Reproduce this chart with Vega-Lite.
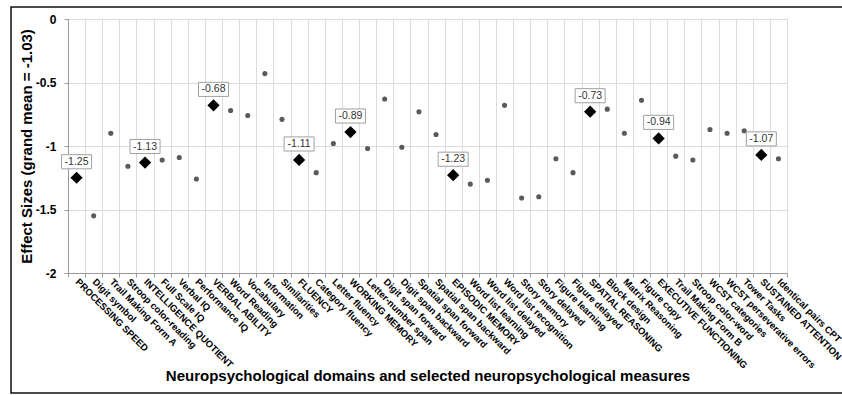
{
  "$schema": "https://vega.github.io/schema/vega-lite/v6.json",
  "width": 719,
  "height": 254,
  "autosize": {"type": "none"},
  "padding": {"left": 68, "top": 19, "right": 55, "bottom": 122},
  "background": "white",
  "config": {
    "font": "Liberation Sans",
    "view": {"stroke": "#9a9a9a", "strokeWidth": 1}
  },
  "datasets": {
    "effects": [
      {"measure": "PROCESSING SPEED", "es": -1.25, "kind": "domain"},
      {"measure": "Digit symbol", "es": -1.55, "kind": "measure"},
      {"measure": "Trail Making Form A", "es": -0.9, "kind": "measure"},
      {"measure": "Stroop color-reading", "es": -1.16, "kind": "measure"},
      {"measure": "INTELLIGENCE QUOTIENT", "es": -1.13, "kind": "domain"},
      {"measure": "Full Scale IQ", "es": -1.11, "kind": "measure"},
      {"measure": "Verbal IQ", "es": -1.09, "kind": "measure"},
      {"measure": "Performance IQ", "es": -1.26, "kind": "measure"},
      {"measure": "VERBAL ABILITY", "es": -0.68, "kind": "domain"},
      {"measure": "Word Reading", "es": -0.72, "kind": "measure"},
      {"measure": "Vocabulary", "es": -0.76, "kind": "measure"},
      {"measure": "Information", "es": -0.43, "kind": "measure"},
      {"measure": "Similarities", "es": -0.79, "kind": "measure"},
      {"measure": "FLUENCY", "es": -1.11, "kind": "domain"},
      {"measure": "Category fluency", "es": -1.21, "kind": "measure"},
      {"measure": "Letter fluency", "es": -0.98, "kind": "measure"},
      {"measure": "WORKING MEMORY", "es": -0.89, "kind": "domain"},
      {"measure": "Letter-number span", "es": -1.02, "kind": "measure"},
      {"measure": "Digit span forward", "es": -0.63, "kind": "measure"},
      {"measure": "Digit span backward", "es": -1.01, "kind": "measure"},
      {"measure": "Spatial span forward", "es": -0.73, "kind": "measure"},
      {"measure": "Spatial span backward", "es": -0.91, "kind": "measure"},
      {"measure": "EPISODIC MEMORY", "es": -1.23, "kind": "domain"},
      {"measure": "Word list learning", "es": -1.3, "kind": "measure"},
      {"measure": "Word list delayed", "es": -1.27, "kind": "measure"},
      {"measure": "Word list recognition", "es": -0.68, "kind": "measure"},
      {"measure": "Story memory", "es": -1.41, "kind": "measure"},
      {"measure": "Story delayed", "es": -1.4, "kind": "measure"},
      {"measure": "Figure learning", "es": -1.1, "kind": "measure"},
      {"measure": "Figure delayed", "es": -1.21, "kind": "measure"},
      {"measure": "SPATIAL REASONING", "es": -0.73, "kind": "domain"},
      {"measure": "Block design", "es": -0.71, "kind": "measure"},
      {"measure": "Matrix Reasoning", "es": -0.9, "kind": "measure"},
      {"measure": "Figure copy", "es": -0.64, "kind": "measure"},
      {"measure": "EXECUTIVE FUNCTIONING", "es": -0.94, "kind": "domain"},
      {"measure": "Trail Making Form B", "es": -1.08, "kind": "measure"},
      {"measure": "Stroop color-word", "es": -1.11, "kind": "measure"},
      {"measure": "WCST categories", "es": -0.87, "kind": "measure"},
      {"measure": "WCST perseverative errors", "es": -0.9, "kind": "measure"},
      {"measure": "Tower Tasks", "es": -0.88, "kind": "measure"},
      {"measure": "SUSTAINED ATTENTION", "es": -1.07, "kind": "domain"},
      {"measure": "Identical pairs CPT", "es": -1.1, "kind": "measure"}
    ],
    "frame": [{"x1": -57, "x2": 790, "y1": 266, "y2": -120}]
  },
  "layer": [
    {
      "data": {"name": "frame"},
      "mark": {"type": "rect", "fill": null, "stroke": "#111111", "strokeWidth": 1.5, "clip": false},
      "encoding": {
        "x": {"field": "x1", "type": "quantitative", "scale": {"domain": [0, 719], "nice": false, "zero": false}, "axis": null},
        "x2": {"field": "x2"},
        "y": {"field": "y1", "type": "quantitative", "scale": {"domain": [0, 254], "nice": false, "zero": false}, "axis": null},
        "y2": {"field": "y2"}
      }
    },
    {
      "data": {"name": "effects"},
      "encoding": {
        "x": {
          "field": "measure",
          "type": "nominal",
          "sort": null,
          "scale": {
            "paddingInner": 0,
            "paddingOuter": 0,
            "domain": ["PROCESSING SPEED", "Digit symbol", "Trail Making Form A", "Stroop color-reading", "INTELLIGENCE QUOTIENT", "Full Scale IQ", "Verbal IQ", "Performance IQ", "VERBAL ABILITY", "Word Reading", "Vocabulary", "Information", "Similarities", "FLUENCY", "Category fluency", "Letter fluency", "WORKING MEMORY", "Letter-number span", "Digit span forward", "Digit span backward", "Spatial span forward", "Spatial span backward", "EPISODIC MEMORY", "Word list learning", "Word list delayed", "Word list recognition", "Story memory", "Story delayed", "Figure learning", "Figure delayed", "SPATIAL REASONING", "Block design", "Matrix Reasoning", "Figure copy", "EXECUTIVE FUNCTIONING", "Trail Making Form B", "Stroop color-word", "WCST categories", "WCST perseverative errors", "Tower Tasks", "SUSTAINED ATTENTION", "Identical pairs CPT"]
          },
          "axis": {
            "title": "Neuropsychological domains and selected neuropsychological measures",
            "titleFontSize": 15,
            "titleFontWeight": "bold",
            "titleColor": "#000000",
            "titleY": 107,
            "titleBaseline": "alphabetic",
            "labelAngle": 45,
            "labelAlign": "left",
            "labelBaseline": "middle",
            "labelFontSize": 9.5,
            "labelFontWeight": "bold",
            "labelColor": "#000000",
            "labelPadding": 3,
            "labelOverlap": false,
            "labelLimit": 0,
            "labelBound": false,
            "tickBand": "extent",
            "tickSize": 4,
            "tickColor": "#9a9a9a",
            "domainColor": "#9a9a9a",
            "grid": true,
            "gridColor": "#dcdcdc"
          }
        },
        "y": {
          "field": "es",
          "type": "quantitative",
          "scale": {"domain": [-2, 0], "nice": false},
          "axis": {
            "title": "Effect Sizes (grand mean = -1.03)",
            "titleFontSize": 15,
            "titleFontWeight": "bold",
            "titleColor": "#000000",
            "titlePadding": 1,
            "values": [0, -0.5, -1, -1.5, -2],
            "labelExpr": "'' + datum.value",
            "labelFontSize": 12,
            "labelFontWeight": "bold",
            "labelColor": "#000000",
            "labelPadding": 8,
            "tickSize": 4,
            "tickColor": "#9a9a9a",
            "domainColor": "#9a9a9a",
            "grid": true,
            "gridColor": "#dcdcdc"
          }
        }
      },
      "layer": [
        {
          "transform": [{"filter": "datum.kind == 'measure'"}],
          "mark": {"type": "point", "shape": "circle", "filled": true, "size": 26, "color": "#5a5a5a", "opacity": 1}
        },
        {
          "transform": [{"filter": "datum.kind == 'domain'"}],
          "mark": {"type": "point", "shape": "diamond", "filled": true, "size": 150, "color": "#000000", "opacity": 1}
        },
        {
          "transform": [{"filter": "datum.kind == 'domain'"}],
          "mark": {"type": "point", "shape": "M-1,-0.47H1V0.47H-1Z", "size": 900, "filled": false, "fill": "#ffffff", "fillOpacity": 1, "stroke": "#a0a0a0", "strokeWidth": 1, "opacity": 1, "yOffset": -16}
        },
        {
          "transform": [{"filter": "datum.kind == 'domain'"}],
          "mark": {"type": "text", "fontSize": 10.5, "color": "#333333", "yOffset": -16, "baseline": "middle", "align": "center"},
          "encoding": {"text": {"field": "es", "type": "nominal"}}
        }
      ]
    }
  ],
  "resolve": {"scale": {"x": "independent", "y": "independent"}, "axis": {"x": "independent", "y": "independent"}}
}
